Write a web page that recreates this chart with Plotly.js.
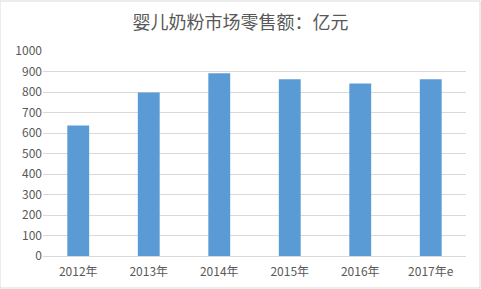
<!DOCTYPE html>
<html><head><meta charset="utf-8">
<script src="https://cdn.plot.ly/plotly-3.0.1.min.js"></script>
<style>html,body{margin:0;padding:0;background:#fff;}#c{width:481px;height:289px;}</style>
</head><body><div id="c"></div>
<script>
const categories = ["2012年","2013年","2014年","2015年","2016年","2017年e"];
const values = [636, 797, 892, 862, 842, 862];
const yTicks = [0,100,200,300,400,500,600,700,800,900,1000];

const font = "'Microsoft YaHei','Noto Sans CJK SC','DejaVu Sans',sans-serif";
Plotly.newPlot('c', [{
  type: 'bar', x: categories, y: values,
  marker: {color: '#5b9bd5'}, hoverinfo: 'none'
}], {
  width: 481, height: 289,
  margin: {l: 43, r: 15, t: 51, b: 33},
  paper_bgcolor: '#fff', plot_bgcolor: '#fff',
  bargap: 0.69,
  title: {text: '婴儿奶粉市场零售额：亿元', x: 0.5, xanchor: 'center', y: 0.922, yanchor: 'middle',
          font: {family: font, size: 18, color: '#595959'}},
  xaxis: {tickfont: {family: font, size: 12, color: '#595959'}, showline: true, linecolor: '#d9d9d9', linewidth: 1,
          ticks: '', ticklabelstandoff: 5, fixedrange: true},
  yaxis: {range: [0, 1000], tickvals: yTicks, ticktext: yTicks.map(String), showgrid: true, gridcolor: '#d9d9d9',
          zeroline: false, tickfont: {family: font, size: 12, color: '#595959'}, ticks: '', ticklen: 0, fixedrange: true},
  shapes: [{type: 'rect', xref: 'paper', yref: 'paper', x0: -43/423, x1: 1 + 14/423, y0: -32/205, y1: 1 + 50/205,
            line: {color: '#d9d9d9', width: 1}}],
  showlegend: false
}, {staticPlot: true});
</script></body></html>
